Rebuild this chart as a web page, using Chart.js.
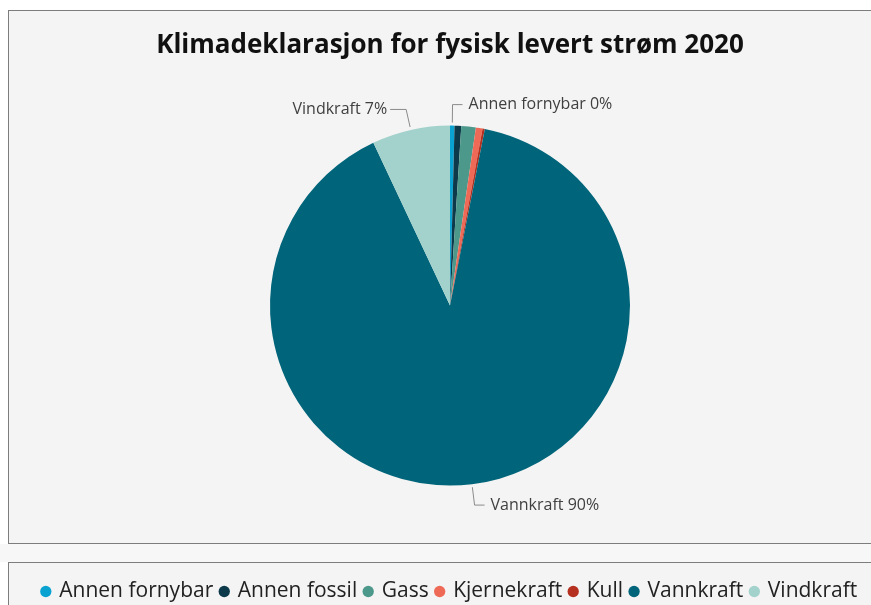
<!DOCTYPE html>
<html>
<head>
<meta charset="utf-8">
<script src="https://cdn.jsdelivr.net/npm/chart.js@4/dist/chart.umd.min.js"></script>
<style>
  body { margin: 0; background: #fff; overflow: hidden; width: 871px; height: 605px; position: relative; }
  .panel { position: absolute; left: 8px; width: 900px; background: #f4f4f4; border: 1px solid #7d7d7d; box-sizing: border-box; }
  #top { top: 10px; height: 534px; }
  #gap { position: absolute; left: 0; top: 544px; width: 871px; height: 18px; background: #f7f7f7; }
  #bottom { top: 562px; height: 80px; }
  #wrap { position: absolute; left: 8px; top: 10px; width: 884px; height: 620px; }
</style>
</head>
<body>
<div class="panel" id="top"></div>
<div id="gap"></div>
<div class="panel" id="bottom"></div>
<div id="wrap"><canvas id="myChart"></canvas></div>
<script>
// energy sources in the 2020 declaration, share in percent
const sources = ['Annen fornybar', 'Annen fossil', 'Gass', 'Kjernekraft', 'Kull', 'Vannkraft', 'Vindkraft'];
const shares = [0.4, 0.6, 1.3, 0.6, 0.2, 89.9, 7.0];
const sliceColors = ['#0aa3d1', '#0c3a4b', '#4c988b', '#ee6a57', '#b5301f', '#00657a', '#a3d2cd'];
// only these slices get an outside label
const labelled = ['Annen fornybar', 'Vindkraft', 'Vannkraft'];

const FONT = "'Open Sans', 'Noto Sans', sans-serif";

// leader lines + "name pct%" text outside the pie
const outsideLabels = {
  id: 'outsideLabels',
  afterDatasetsDraw(chart) {
    const ctx = chart.ctx;
    const meta = chart.getDatasetMeta(0);
    const total = shares.reduce((a, b) => a + b, 0);
    ctx.save();
    ctx.font = '16px ' + FONT;
    ctx.textBaseline = 'middle';
    meta.data.forEach((arc, i) => {
      if (!labelled.includes(sources[i])) return;
      const mid = (arc.startAngle + arc.endAngle) / 2;
      const r = arc.outerRadius;
      const cx = arc.x, cy = arc.y;
      const x0 = cx + Math.cos(mid) * (r + 3), y0 = cy + Math.sin(mid) * (r + 3);
      const x1 = cx + Math.cos(mid) * (r + 21), y1 = cy + Math.sin(mid) * (r + 21);
      const right = Math.cos(mid) >= -0.001;
      const x2 = x1 + (right ? 10 : -16);
      ctx.strokeStyle = '#8a8a8a';
      ctx.lineWidth = 1;
      ctx.beginPath();
      ctx.moveTo(x0, y0);
      ctx.lineTo(x1, y1);
      ctx.lineTo(x2, y1);
      ctx.stroke();
      const pct = Math.round(shares[i] / total * 100);
      ctx.fillStyle = '#404040';
      ctx.textAlign = right ? 'left' : 'right';
      ctx.fillText(sources[i] + ' ' + pct + '%', x2 + (right ? 6 : -3), y1);
    });
    ctx.restore();
  }
};

const data = {
  labels: sources,
  datasets: [{
    data: shares,
    backgroundColor: sliceColors,
    borderWidth: 0,
    radius: 180
  }]
};

const config = {
  type: 'pie',
  data: data,
  options: {
    responsive: true,
    maintainAspectRatio: false,
    animation: false,
    layout: { padding: { bottom: 18 } },
    plugins: {
      title: {
        display: true,
        text: 'Klimadeklarasjon for fysisk levert strøm 2020',
        color: '#111',
        font: { family: FONT, size: 26, weight: 'bold' },
        padding: { top: 20, bottom: 37 }
      },
      legend: {
        position: 'bottom',
        title: { display: true, text: '', font: { size: 10, lineHeight: 1 }, padding: { top: 50, bottom: 0 } },
        labels: {
          usePointStyle: true,
          pointStyle: 'circle',
          boxWidth: 6,
          boxHeight: 8,
          padding: 8,
          color: '#222',
          font: { family: FONT, size: 21 }
        }
      },
      tooltip: { enabled: false }
    }
  },
  plugins: [outsideLabels]
};

const myChart = new Chart(document.getElementById('myChart'), config);
</script>
</body>
</html>
